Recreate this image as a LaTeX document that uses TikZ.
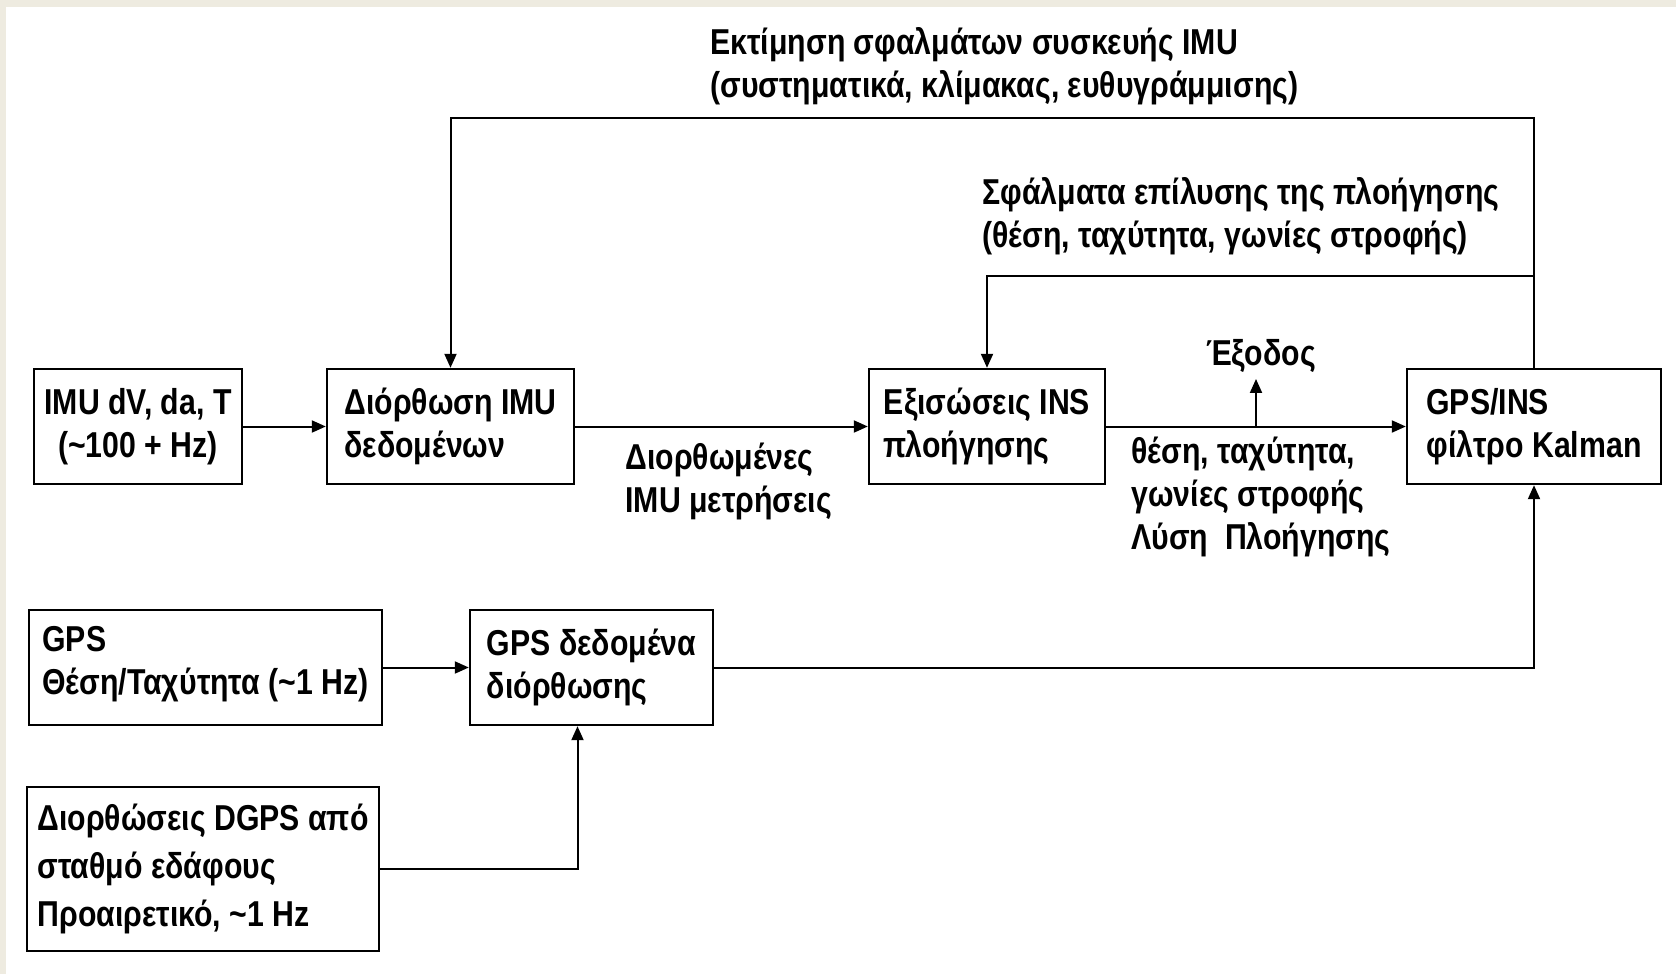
\documentclass[tikz,border=0pt]{standalone}
\usepackage{fontspec}
\newfontfamily\diagfont{Liberation Sans}[FakeStretch=0.84]
\usetikzlibrary{arrows.meta,calc}
\definecolor{beige}{HTML}{EEEBE0}
\begin{document}
\begin{tikzpicture}[x=0.5pt,y=-0.5pt,
  every node/.style={font=\diagfont\bfseries\fontsize{18pt}{21.5pt}\selectfont},
  box/.style={draw, line width=1.2pt, rectangle, minimum height=57.5pt, inner sep=0pt, align=left},
  lbl/.style={inner sep=0pt, align=left, anchor=west},
  arr/.style={line width=1pt, -{Triangle[length=7pt,width=6pt]}},
  ln/.style={line width=1pt}]
\useasboundingbox (0,0) rectangle (1676,974);
\fill[beige] (0,0) rectangle (1676,974);
\fill[white] (6,7) rectangle (1676,974);

% boxes
\node[box, align=center, minimum width=104pt] (imu) at (138,426.5) {IMU dV, da, T\\(\textasciitilde100 + Hz)};
\node[box, minimum width=123.5pt] (cor) at (450.5,426.5) {Διόρθωση IMU\\δεδομένων};
\node[box, minimum width=118pt] (ins) at (987,426.5) {Εξισώσεις INS\\πλοήγησης};
\node[box, minimum width=127pt] (kal) at (1534,426.5) {GPS/INS\\φίλτρο Kalman};
\node[box, minimum width=176.5pt] (gps) at (205.5,667.5) {GPS\\Θέση/Ταχύτητα (\textasciitilde1 Hz)\\[-14pt]\mbox{}};
\node[box, minimum width=121.5pt] (gpsd) at (591.5,667.5) {GPS δεδομένα\\διόρθωσης};
\node[box, minimum width=176pt, minimum height=82pt] (dgps) at (203,869) {Διορθώσεις DGPS από\\[2.5pt]σταθμό εδάφους\\[2.5pt]Προαιρετικό, \textasciitilde1 Hz};

% labels
\node[lbl] (l1) at (710,66.5) {Εκτίμηση σφαλμάτων συσκευής IMU\\(συστηματικά, κλίμακας, ευθυγράμμισης)};
\node[lbl] (l2) at (982,216) {Σφάλματα επίλυσης της πλοήγησης\\(θέση, ταχύτητα, γωνίες στροφής)};
\node[lbl] (l3) at (625,481) {Διορθωμένες\\IMU μετρήσεις};
\node[lbl] (l4) at (1131,497) {θέση, ταχύτητα,\\γωνίες στροφής\\Λύση\ \ Πλοήγησης};
\node[inner sep=0pt] (out) at (1261,356) {Έξοδος};

% helper coordinates
\coordinate (top) at (0,117.6);
\coordinate (sec) at (0,275.8);

% connectors
\draw[arr] (imu.east) -- (cor.west);
\draw[arr] (cor.east) -- (ins.west);
\draw[arr] (ins.east) -- coordinate[pos=0.5] (br) (kal.west);
\draw[arr] (br) -- ([yshift=-3pt]br |- out.south);
\draw[arr] (kal.north) -- (kal.north |- top) -| (cor.north);
\draw[arr] (kal.north |- sec) -| (ins.north);
\draw[arr] (gps.east) -- (gpsd.west |- gps.east);
\draw[arr] (gpsd.east) -| (kal.south);
\draw[arr] (dgps.east) -| ([xshift=-7pt]gpsd.south);
\end{tikzpicture}
\end{document}
